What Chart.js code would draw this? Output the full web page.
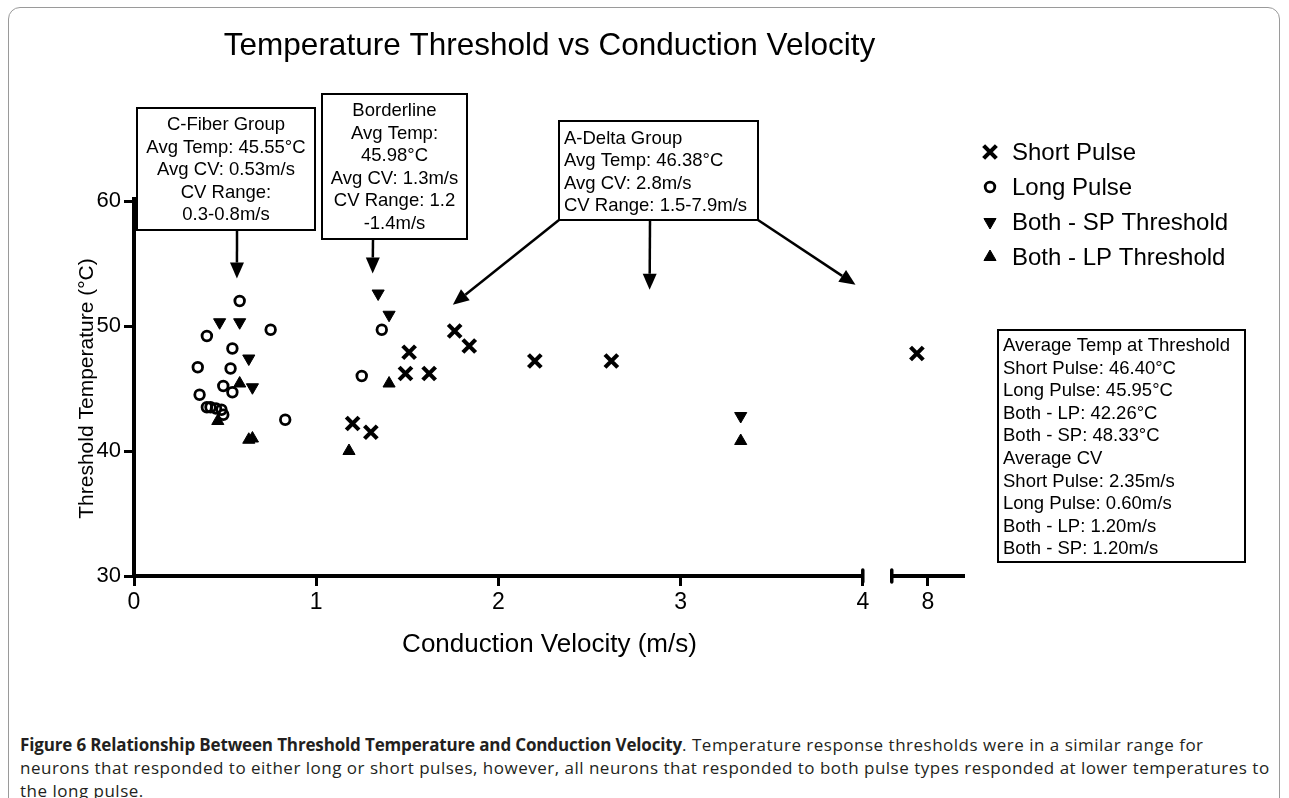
<!DOCTYPE html>
<html>
<head>
<meta charset="utf-8">
<script src="https://cdn.jsdelivr.net/npm/chart.js@4/dist/chart.umd.min.js"></script>
<style>
  html, body { margin: 0; padding: 0; background: #fff; }
  body { width: 1289px; height: 798px; position: relative; overflow: hidden; }
  #frame {
    position: absolute; left: 8px; top: 7px; width: 1272px; height: 830px;
    border: 1px solid #9a9a9a; border-radius: 12px; box-sizing: border-box;
  }
  #chart-wrap { position: absolute; left: 0; top: 0; width: 1289px; height: 700px; }
  #caption {
    position: absolute; left: 20px; top: 733px; white-space: nowrap;
    font-family: "Open Sans", sans-serif; font-size: 17px; line-height: 23px; color: #231f20;
    letter-spacing: 0.5px;
  }
  #caption b { font-weight: 700; letter-spacing: -0.15px; }
</style>
</head>
<body>
<div id="frame"></div>
<div id="chart-wrap"><canvas id="chart" width="1289" height="700"></canvas></div>
<div id="caption"><b>Figure 6 Relationship Between Threshold Temperature and Conduction Velocity</b>. Temperature response thresholds were in a similar range for<br>neurons that responded to either long or short pulses, however, all neurons that responded to both pulse types responded at lower temperatures to<br>the long pulse.</div>
<script>
// Conduction velocity (m/s) and threshold temperature (°C)
const shortPulseCV   = [1.20, 1.30, 1.49, 1.51, 1.62, 1.76, 1.84, 2.20, 2.62, 7.90];
const shortPulseTemp = [42.2, 41.5, 46.2, 47.9, 46.2, 49.6, 48.4, 47.2, 47.2, 47.8];

const longPulseCV   = [0.35, 0.36, 0.40, 0.40, 0.42, 0.45, 0.48, 0.49, 0.49, 0.53, 0.54, 0.54, 0.58, 0.75, 0.83, 1.25, 1.36];
const longPulseTemp = [46.7, 44.5, 49.2, 43.5, 43.5, 43.4, 43.3, 42.9, 45.2, 46.6, 48.2, 44.7, 52.0, 49.7, 42.5, 46.0, 49.7];

const bothSPCV   = [0.47, 0.58, 0.63, 0.65, 1.34, 1.40, 3.33];
const bothSPTemp = [50.3, 50.3, 47.4, 45.1, 52.6, 50.9, 42.8];

const bothLPCV   = [0.58, 0.46, 0.63, 0.65, 1.40, 1.18, 3.33];
const bothLPTemp = [45.4, 42.4, 40.9, 41.0, 45.4, 40.0, 40.8];

const seriesNames = ['Short Pulse', 'Long Pulse', 'Both - SP Threshold', 'Both - LP Threshold'];

const xTicks = [0, 1, 2, 3, 4, 8];
const yTicks = [30, 40, 50, 60];

// broken x axis: 0-4 then a short stretch around 8
const breakAt = 4, tailStart = 7.67, tailEnd = 8.34, tailGap = 0.159, tailScale = 0.6;

const titleText = 'Temperature Threshold vs Conduction Velocity';
const xTitle = 'Conduction Velocity (m/s)';
const yTitle = 'Threshold Temperature (°C)';

const cFiberLines = ['C-Fiber Group', 'Avg Temp: 45.55°C', 'Avg CV: 0.53m/s', 'CV Range:', '0.3-0.8m/s'];
const borderlineLines = ['Borderline', 'Avg Temp:', '45.98°C', 'Avg CV: 1.3m/s', 'CV Range: 1.2', '-1.4m/s'];
const aDeltaLines = ['A-Delta Group', 'Avg Temp: 46.38°C', 'Avg CV: 2.8m/s', 'CV Range: 1.5-7.9m/s'];
const statsLines = ['Average Temp at Threshold', 'Short Pulse: 46.40°C', 'Long Pulse: 45.95°C', 'Both - LP: 42.26°C',
  'Both - SP: 48.33°C', 'Average CV', 'Short Pulse: 2.35m/s', 'Long Pulse: 0.60m/s', 'Both - LP: 1.20m/s', 'Both - SP: 1.20m/s'];

const FONT = "'Liberation Sans', Arial, sans-serif";

function toAxis(v) {
  return v <= breakAt + 0.05 ? v : breakAt + tailGap + (v - tailStart) * tailScale;
}

class BrokenLinearScale extends Chart.LinearScale {
  getPixelForValue(value) {
    return super.getPixelForValue(toAxis(value));
  }
}
BrokenLinearScale.id = 'brokenLinear';
BrokenLinearScale.defaults = Chart.LinearScale.defaults;
Chart.register(BrokenLinearScale);

function pts(xs, ys) {
  return xs.map((x, i) => ({ x: x, y: ys[i] }));
}

const markerStyles = [
  { pointStyle: 'crossRot', radius: 9, borderWidth: 4.2, rotation: 0, fill: false },
  { pointStyle: 'circle', radius: 4.8, borderWidth: 2.8, rotation: 0, fill: false },
  { pointStyle: 'triangle', radius: 7, borderWidth: 1, rotation: 180, fill: true },
  { pointStyle: 'triangle', radius: 7, borderWidth: 1, rotation: 0, fill: true }
];

function drawArrow(ctx, x1, y1, x2, y2) {
  const ang = Math.atan2(y2 - y1, x2 - x1);
  const headLen = 16, headHalf = 7;
  const bx = x2 - Math.cos(ang) * headLen, by = y2 - Math.sin(ang) * headLen;
  ctx.beginPath();
  ctx.moveTo(x1, y1);
  ctx.lineTo(bx, by);
  ctx.lineWidth = 2.5;
  ctx.stroke();
  ctx.beginPath();
  ctx.moveTo(x2, y2);
  ctx.lineTo(bx + Math.sin(ang) * headHalf, by - Math.cos(ang) * headHalf);
  ctx.lineTo(bx - Math.sin(ang) * headHalf, by + Math.cos(ang) * headHalf);
  ctx.closePath();
  ctx.fill();
}

function drawBox(ctx, box, lines, align) {
  ctx.lineWidth = 2;
  ctx.strokeRect(box.x, box.y, box.w, box.h);
  ctx.font = '18.5px ' + FONT;
  ctx.textBaseline = 'middle';
  ctx.textAlign = align;
  const tx = align === 'center' ? box.x + box.w / 2 : box.x + 5;
  lines.forEach((t, i) => ctx.fillText(t, tx, box.firstLine + i * box.lineGap));
}

const extras = {
  id: 'extras',
  afterDraw(chart) {
    const ctx = chart.ctx;
    const area = chart.chartArea;
    const xs = chart.scales.x;
    const ys = chart.scales.y;
    ctx.save();
    ctx.fillStyle = '#000';
    ctx.strokeStyle = '#000';

    // title
    ctx.font = '31.5px ' + FONT;
    ctx.textAlign = 'center';
    ctx.textBaseline = 'middle';
    ctx.fillText(titleText, (area.left + area.right) / 2, 46);

    // y axis runs a little past the top tick
    ctx.lineWidth = 4;
    ctx.beginPath();
    ctx.moveTo(area.left, area.top + 1); ctx.lineTo(area.left, area.top - 4);
    ctx.stroke();

    // broken x axis line
    const yb = area.bottom;
    const x4 = xs.getPixelForValue(breakAt);
    const xt = xs.getPixelForValue(tailStart);
    ctx.lineWidth = 4;
    ctx.lineCap = 'butt';
    ctx.beginPath();
    ctx.moveTo(area.left - 2, yb); ctx.lineTo(x4, yb);
    ctx.moveTo(xt, yb); ctx.lineTo(area.right, yb);
    ctx.stroke();
    ctx.lineWidth = 3.5;
    ctx.lineCap = 'round';
    ctx.beginPath();
    ctx.moveTo(x4, yb - 6); ctx.lineTo(x4, yb + 6);
    ctx.moveTo(xt, yb - 6); ctx.lineTo(xt, yb + 6);
    ctx.stroke();
    ctx.lineCap = 'butt';

    // legend
    chart.data.datasets.forEach((ds, i) => {
      const m = markerStyles[i];
      const ly = 152 + i * 35;
      ctx.fillStyle = m.fill ? '#000' : 'rgba(0,0,0,0)';
      ctx.strokeStyle = '#000';
      ctx.lineWidth = m.borderWidth;
      Chart.helpers.drawPoint(ctx, { pointStyle: m.pointStyle, radius: m.radius, rotation: m.rotation, borderWidth: m.borderWidth }, 990, ly);
      ctx.fillStyle = '#000';
      ctx.font = '24px ' + FONT;
      ctx.textAlign = 'left';
      ctx.textBaseline = 'middle';
      ctx.fillText(ds.label, 1012, ly + 1);
    });

    // annotation boxes and arrows
    ctx.fillStyle = '#000';
    ctx.strokeStyle = '#000';
    drawBox(ctx, { x: 137, y: 108, w: 178, h: 122, firstLine: 125, lineGap: 22.5 }, cFiberLines, 'center');
    drawBox(ctx, { x: 322, y: 94, w: 145, h: 145, firstLine: 111, lineGap: 22.6 }, borderlineLines, 'center');
    drawBox(ctx, { x: 559, y: 121, w: 199, h: 99, firstLine: 138.5, lineGap: 22.5 }, aDeltaLines, 'left');
    drawBox(ctx, { x: 998, y: 330, w: 247, h: 232, firstLine: 346, lineGap: 22.6 }, statsLines, 'left');

    drawArrow(ctx, 237, 230, xs.getPixelForValue(0.565), ys.getPixelForValue(53.8));
    drawArrow(ctx, 373, 239, xs.getPixelForValue(1.31), ys.getPixelForValue(54.2));
    drawArrow(ctx, 559, 220, xs.getPixelForValue(1.75), ys.getPixelForValue(51.7));
    drawArrow(ctx, 650, 220, xs.getPixelForValue(2.83), ys.getPixelForValue(52.9));
    drawArrow(ctx, 758, 220, xs.getPixelForValue(3.96), ys.getPixelForValue(53.3));
    ctx.restore();
  }
};

Chart.defaults.font.family = FONT;
Chart.defaults.color = '#000';

new Chart(document.getElementById('chart'), {
  type: 'scatter',
  data: {
    datasets: [
      { label: seriesNames[0], data: pts(shortPulseCV, shortPulseTemp) },
      { label: seriesNames[1], data: pts(longPulseCV, longPulseTemp) },
      { label: seriesNames[2], data: pts(bothSPCV, bothSPTemp) },
      { label: seriesNames[3], data: pts(bothLPCV, bothLPTemp) }
    ].map((ds, i) => Object.assign(ds, {
      pointStyle: markerStyles[i].pointStyle,
      pointRadius: markerStyles[i].radius,
      pointBorderWidth: markerStyles[i].borderWidth,
      pointRotation: markerStyles[i].rotation,
      pointBorderColor: '#000',
      pointBackgroundColor: markerStyles[i].fill ? '#000' : 'rgba(0,0,0,0)'
    }))
  },
  options: {
    responsive: false,
    animation: false,
    events: [],
    layout: { padding: { left: 71, right: 324, top: 201, bottom: 36 } },
    plugins: {
      legend: { display: false },
      tooltip: { enabled: false }
    },
    scales: {
      x: {
        type: 'brokenLinear',
        min: 0,
        max: toAxis(tailEnd),
        afterBuildTicks: s => { s.ticks = xTicks.map(v => ({ value: v })); },
        afterFit: s => { s.height = 88; },
        ticks: { autoSkip: false, maxRotation: 0, font: { size: 23 }, color: '#000', padding: 3 },
        grid: { drawOnChartArea: false, drawTicks: true, tickLength: 10, tickWidth: 3, tickColor: '#000', color: '#000', lineWidth: 3 },
        border: { display: false },
        title: { display: true, text: xTitle, font: { size: 26 }, color: '#000', padding: 4 }
      },
      y: {
        min: 30,
        max: 60,
        afterBuildTicks: s => { s.ticks = yTicks.map(v => ({ value: v })); },
        afterFit: s => { s.width = 63; },
        ticks: { font: { size: 22 }, color: '#000', padding: 3 },
        grid: { drawOnChartArea: false, drawTicks: true, tickLength: 10, tickWidth: 3, tickColor: '#000', color: '#000', lineWidth: 3 },
        border: { display: true, width: 4, color: '#000' },
        title: { display: true, text: yTitle, font: { size: 21 }, color: '#000', padding: 4 }
      }
    }
  },
  plugins: [extras]
});
</script>
</body>
</html>
